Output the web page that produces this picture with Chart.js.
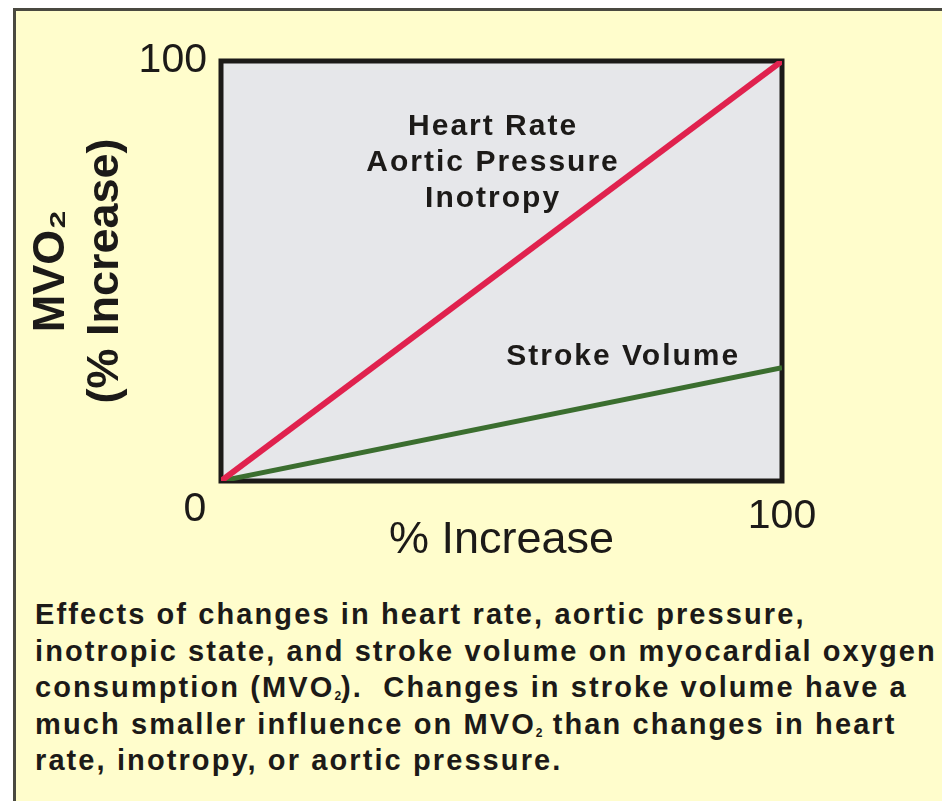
<!DOCTYPE html>
<html>
<head>
<meta charset="utf-8">
<script src="https://cdn.jsdelivr.net/npm/chart.js@4.4.1/dist/chart.umd.min.js"></script>
<style>
  html, body { margin: 0; padding: 0; background: #ffffff; overflow: hidden; }
  #frame {
    position: absolute; left: 13px; top: 8px; width: 1000px; height: 900px;
    background: #fffdcc; border: 3px solid #4a4940;
  }
  #chart { position: absolute; left: 0; top: 0; }
  #caption {
    position: absolute; left: 35px; top: 596px; white-space: nowrap;
    font: bold 29px "Liberation Sans", Arial, sans-serif; line-height: 36.5px;
    color: #1c1a18; letter-spacing: 2.1px;
  }
  #caption sub { font-size: 12px; line-height: 0; vertical-align: -3px; letter-spacing: 0; }
</style>
</head>
<body>
<div id="frame"></div>
<canvas id="chart" width="942" height="590"></canvas>
<div id="caption">
Effects of changes in heart rate, aortic pressure,<br>
inotropic state, and stroke volume on myocardial oxygen<br>
consumption (MVO<sub>2</sub>).&nbsp; Changes in stroke volume have a<br>
much smaller influence on MVO<sub>2</sub> than changes in heart<br>
rate, inotropy, or aortic pressure.
</div>
<script>
// values
const pctIncrease = [0, 100];
const hrAorticInotropy = [0, 100];
const strokeVolume = [0, 27];
const xTicks = [100];
const yTicks = [100];
const upperLabels = ['Heart Rate', 'Aortic Pressure', 'Inotropy'];
const lowerLabel = 'Stroke Volume';

const ink = '#1c1a18';
const fontFam = '"Liberation Sans", Arial, sans-serif';

function points(ys) {
  return pctIncrease.map(function (x, i) { return { x: x, y: ys[i] }; });
}

// grey plot box with a heavy black frame
const plotBox = {
  id: 'plotBox',
  beforeDatasetsDraw(chart) {
    const a = chart.chartArea;
    const ctx = chart.ctx;
    ctx.save();
    ctx.fillStyle = '#e6e7ea';
    ctx.fillRect(a.left, a.top, a.right - a.left, a.bottom - a.top);
    ctx.strokeStyle = ink;
    ctx.lineWidth = 5;
    ctx.lineJoin = 'miter';
    ctx.strokeRect(a.left, a.top, a.right - a.left, a.bottom - a.top);
    ctx.restore();
  }
};

// the shared "0", and the line labels inside the box
const textLabels = {
  id: 'textLabels',
  afterDatasetsDraw(chart) {
    const xs = chart.scales.x, ys = chart.scales.y;
    const ctx = chart.ctx;
    ctx.save();
    ctx.fillStyle = ink;
    ctx.textAlign = 'center';
    ctx.textBaseline = 'middle';
    ctx.font = '41px ' + fontFam;
    ctx.fillText('0', xs.getPixelForValue(0) - 26, ys.getPixelForValue(0) + 29);

    ctx.font = 'bold 30px ' + fontFam;
    ctx.letterSpacing = '2px';
    const cx = xs.getPixelForValue(48.5);
    let cy = ys.getPixelForValue(84.3);
    upperLabels.forEach(function (t) {
      ctx.fillText(t, cx, cy);
      cy += 36;
    });
    ctx.fillText(lowerLabel, xs.getPixelForValue(71.7), ys.getPixelForValue(29.6));
    ctx.restore();
  }
};

new Chart(document.getElementById('chart'), {
  type: 'line',
  data: {
    datasets: [
      {
        label: 'Heart Rate / Aortic Pressure / Inotropy',
        data: points(hrAorticInotropy),
        borderColor: '#e0224e',
        borderWidth: 6,
        pointRadius: 0,
        fill: false
      },
      {
        label: 'Stroke Volume',
        data: points(strokeVolume),
        borderColor: '#3b6e2f',
        borderWidth: 5,
        pointRadius: 0,
        fill: false
      }
    ]
  },
  options: {
    responsive: false,
    animation: false,
    layout: { padding: { left: 0, top: 61, right: 160, bottom: 0 } },
    plugins: {
      legend: { display: false },
      tooltip: { enabled: false },
      title: { display: false }
    },
    scales: {
      x: {
        type: 'linear',
        min: 0,
        max: 100,
        grid: { display: false, drawTicks: false, tickLength: 0 },
        border: { display: false },
        afterBuildTicks: function (s) { s.ticks = xTicks.map(function (v) { return { value: v }; }); },
        afterFit: function (s) { s.height = 590 - 481; },
        ticks: { padding: 11, color: ink, font: { family: fontFam, size: 41 } },
        title: {
          display: true,
          text: '% Increase',
          color: ink,
          padding: { top: 22, bottom: 22 },
          font: { family: fontFam, size: 45 }
        }
      },
      y: {
        type: 'linear',
        min: 0,
        max: 100,
        grid: { display: false, drawTicks: false, tickLength: 0 },
        border: { display: false },
        afterBuildTicks: function (s) { s.ticks = yTicks.map(function (v) { return { value: v }; }); },
        afterFit: function (s) { s.width = 221; },
        ticks: { padding: 14, color: ink, font: { family: fontFam, size: 41 } },
        title: {
          display: true,
          text: ['MVO\u2082', '(% Increase)'],
          color: ink,
          padding: { top: 25, bottom: 25 },
          font: { family: fontFam, size: 45, weight: 'bold', lineHeight: 1.2 }
        }
      }
    }
  },
  plugins: [plotBox, textLabels]
});
</script>
</body>
</html>
